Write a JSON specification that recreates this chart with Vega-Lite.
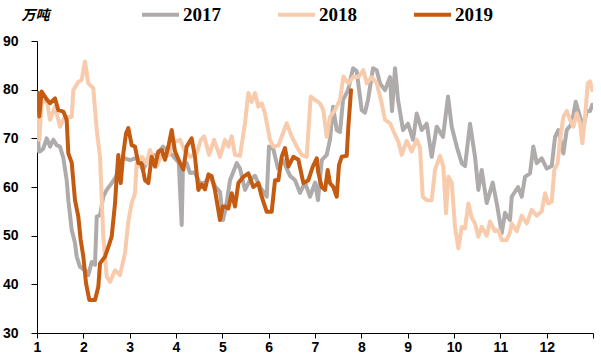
{
  "$schema": "https://vega.github.io/schema/vega-lite/v6.json",
  "autosize": {"type": "none"},
  "width": 556,
  "height": 292,
  "padding": {"left": 37, "top": 41, "right": 8, "bottom": 28},
  "background": "white",
  "config": {"view": {"stroke": null}},
  "data": {"values": [
    {"year":"2017","m":1.0,"v":73.8},{"year":"2017","m":1.04,"v":67.3},{"year":"2017","m":1.065,"v":67.3},{"year":"2017","m":1.13,"v":67.8},{"year":"2017","m":1.209,"v":70.0},{"year":"2017","m":1.281,"v":68.3},{"year":"2017","m":1.352,"v":69.7},{"year":"2017","m":1.425,"v":68.6},{"year":"2017","m":1.496,"v":68.3},{"year":"2017","m":1.568,"v":66},{"year":"2017","m":1.641,"v":61.4},{"year":"2017","m":1.676,"v":57.3},{"year":"2017","m":1.749,"v":51.2},{"year":"2017","m":1.82,"v":48.5},{"year":"2017","m":1.857,"v":45.7},{"year":"2017","m":1.928,"v":43.6},{"year":"2017","m":2.036,"v":42.9},{"year":"2017","m":2.107,"v":41.9},{"year":"2017","m":2.181,"v":44.6},{"year":"2017","m":2.252,"v":44},{"year":"2017","m":2.289,"v":53.9},{"year":"2017","m":2.36,"v":54.2},{"year":"2017","m":2.431,"v":58},{"year":"2017","m":2.504,"v":59.4},{"year":"2017","m":2.612,"v":60.8},{"year":"2017","m":2.7,"v":62},{"year":"2017","m":2.863,"v":66},{"year":"2017","m":3.007,"v":65.5},{"year":"2017","m":3.15,"v":66},{"year":"2017","m":3.288,"v":63.5},{"year":"2017","m":3.439,"v":66.5},{"year":"2017","m":3.58,"v":66.6},{"year":"2017","m":3.72,"v":68.3},{"year":"2017","m":3.935,"v":66.4},{"year":"2017","m":4.06,"v":65},{"year":"2017","m":4.123,"v":52.2},{"year":"2017","m":4.151,"v":64.6},{"year":"2017","m":4.23,"v":64.9},{"year":"2017","m":4.302,"v":62.9},{"year":"2017","m":4.4,"v":63},{"year":"2017","m":4.518,"v":60.8},{"year":"2017","m":4.62,"v":60.8},{"year":"2017","m":4.73,"v":62.3},{"year":"2017","m":4.85,"v":60},{"year":"2017","m":4.95,"v":59},{"year":"2017","m":5.015,"v":53.2},{"year":"2017","m":5.08,"v":56},{"year":"2017","m":5.166,"v":61.4},{"year":"2017","m":5.31,"v":64.9},{"year":"2017","m":5.382,"v":63.8},{"year":"2017","m":5.489,"v":59.4},{"year":"2017","m":5.597,"v":61.4},{"year":"2017","m":5.705,"v":62.3},{"year":"2017","m":5.813,"v":60},{"year":"2017","m":5.958,"v":58},{"year":"2017","m":6.007,"v":68.3},{"year":"2017","m":6.094,"v":68},{"year":"2017","m":6.202,"v":63.8},{"year":"2017","m":6.31,"v":65.5},{"year":"2017","m":6.461,"v":62.3},{"year":"2017","m":6.569,"v":61.4},{"year":"2017","m":6.677,"v":58.8},{"year":"2017","m":6.785,"v":60.9},{"year":"2017","m":6.893,"v":58},{"year":"2017","m":7.0,"v":60.9},{"year":"2017","m":7.065,"v":57.3},{"year":"2017","m":7.145,"v":65.5},{"year":"2017","m":7.253,"v":66.6},{"year":"2017","m":7.324,"v":69.7},{"year":"2017","m":7.389,"v":76.5},{"year":"2017","m":7.469,"v":71.7},{"year":"2017","m":7.54,"v":71.3},{"year":"2017","m":7.605,"v":77.9},{"year":"2017","m":7.713,"v":79.9},{"year":"2017","m":7.821,"v":84.4},{"year":"2017","m":7.9,"v":83.8},{"year":"2017","m":8.008,"v":75.8},{"year":"2017","m":8.08,"v":75.3},{"year":"2017","m":8.144,"v":77.9},{"year":"2017","m":8.252,"v":84.4},{"year":"2017","m":8.332,"v":84},{"year":"2017","m":8.403,"v":81.3},{"year":"2017","m":8.511,"v":79.9},{"year":"2017","m":8.619,"v":82.6},{"year":"2017","m":8.662,"v":75.6},{"year":"2017","m":8.727,"v":84.4},{"year":"2017","m":8.792,"v":77.9},{"year":"2017","m":8.9,"v":71.7},{"year":"2017","m":9.008,"v":73},{"year":"2017","m":9.116,"v":69.7},{"year":"2017","m":9.196,"v":75.1},{"year":"2017","m":9.303,"v":71.7},{"year":"2017","m":9.411,"v":73},{"year":"2017","m":9.519,"v":66.2},{"year":"2017","m":9.627,"v":72.4},{"year":"2017","m":9.763,"v":70.3},{"year":"2017","m":9.871,"v":78.6},{"year":"2017","m":9.951,"v":72.4},{"year":"2017","m":10.059,"v":68.3},{"year":"2017","m":10.167,"v":64.9},{"year":"2017","m":10.238,"v":64.3},{"year":"2017","m":10.346,"v":73},{"year":"2017","m":10.454,"v":66.2},{"year":"2017","m":10.525,"v":59.4},{"year":"2017","m":10.598,"v":63.5},{"year":"2017","m":10.706,"v":56.7},{"year":"2017","m":10.836,"v":60.9},{"year":"2017","m":10.935,"v":56},{"year":"2017","m":11.03,"v":50.5},{"year":"2017","m":11.101,"v":54.7},{"year":"2017","m":11.209,"v":53.2},{"year":"2017","m":11.246,"v":58},{"year":"2017","m":11.382,"v":60},{"year":"2017","m":11.462,"v":58},{"year":"2017","m":11.533,"v":62.1},{"year":"2017","m":11.641,"v":62.8},{"year":"2017","m":11.712,"v":68.3},{"year":"2017","m":11.786,"v":64.9},{"year":"2017","m":11.894,"v":65.9},{"year":"2017","m":12.002,"v":63.8},{"year":"2017","m":12.109,"v":64.3},{"year":"2017","m":12.181,"v":70.3},{"year":"2017","m":12.252,"v":71.7},{"year":"2017","m":12.36,"v":66.9},{"year":"2017","m":12.433,"v":71.7},{"year":"2017","m":12.541,"v":73},{"year":"2017","m":12.627,"v":77.5},{"year":"2017","m":12.72,"v":74.4},{"year":"2017","m":12.792,"v":72.4},{"year":"2017","m":12.865,"v":75.6},{"year":"2017","m":12.936,"v":75.6},{"year":"2017","m":12.986,"v":76.9},
    {"year":"2018","m":1.0,"v":75.8},{"year":"2018","m":1.05,"v":69.7},{"year":"2018","m":1.1,"v":77.2},{"year":"2018","m":1.209,"v":77.9},{"year":"2018","m":1.281,"v":73.8},{"year":"2018","m":1.39,"v":76.5},{"year":"2018","m":1.496,"v":72.4},{"year":"2018","m":1.6,"v":74.4},{"year":"2018","m":1.749,"v":74.4},{"year":"2018","m":1.784,"v":79.9},{"year":"2018","m":1.892,"v":81.6},{"year":"2018","m":1.964,"v":82},{"year":"2018","m":2.036,"v":85.8},{"year":"2018","m":2.107,"v":81.3},{"year":"2018","m":2.215,"v":80.3},{"year":"2018","m":2.289,"v":71.7},{"year":"2018","m":2.36,"v":66.2},{"year":"2018","m":2.395,"v":58},{"year":"2018","m":2.431,"v":49.8},{"year":"2018","m":2.504,"v":41.6},{"year":"2018","m":2.576,"v":40.5},{"year":"2018","m":2.684,"v":42.9},{"year":"2018","m":2.791,"v":41.9},{"year":"2018","m":2.899,"v":46.4},{"year":"2018","m":2.971,"v":52.9},{"year":"2018","m":3.043,"v":56.7},{"year":"2018","m":3.115,"v":58.7},{"year":"2018","m":3.151,"v":64.9},{"year":"2018","m":3.18,"v":64.2},{"year":"2018","m":3.259,"v":66.2},{"year":"2018","m":3.367,"v":64.9},{"year":"2018","m":3.439,"v":67.6},{"year":"2018","m":3.58,"v":64.2},{"year":"2018","m":3.691,"v":66.6},{"year":"2018","m":3.835,"v":66.5},{"year":"2018","m":3.97,"v":69.3},{"year":"2018","m":4.087,"v":69.7},{"year":"2018","m":4.18,"v":67.6},{"year":"2018","m":4.302,"v":66.2},{"year":"2018","m":4.45,"v":67},{"year":"2018","m":4.535,"v":69.7},{"year":"2018","m":4.607,"v":70.4},{"year":"2018","m":4.715,"v":66.6},{"year":"2018","m":4.823,"v":69.7},{"year":"2018","m":4.95,"v":66.2},{"year":"2018","m":5.058,"v":69.7},{"year":"2018","m":5.13,"v":68.3},{"year":"2018","m":5.202,"v":70.4},{"year":"2018","m":5.274,"v":66.6},{"year":"2018","m":5.382,"v":66.4},{"year":"2018","m":5.489,"v":73.1},{"year":"2018","m":5.561,"v":79.3},{"year":"2018","m":5.633,"v":77.5},{"year":"2018","m":5.705,"v":79.3},{"year":"2018","m":5.777,"v":76.5},{"year":"2018","m":5.85,"v":77.2},{"year":"2018","m":5.921,"v":75.1},{"year":"2018","m":6.029,"v":69.7},{"year":"2018","m":6.101,"v":68.3},{"year":"2018","m":6.209,"v":68.5},{"year":"2018","m":6.389,"v":73.1},{"year":"2018","m":6.497,"v":70.4},{"year":"2018","m":6.605,"v":68.3},{"year":"2018","m":6.713,"v":66.6},{"year":"2018","m":6.821,"v":66.2},{"year":"2018","m":6.907,"v":78.6},{"year":"2018","m":7.0,"v":77.9},{"year":"2018","m":7.108,"v":77.2},{"year":"2018","m":7.18,"v":75.8},{"year":"2018","m":7.253,"v":70.3},{"year":"2018","m":7.324,"v":74.4},{"year":"2018","m":7.432,"v":75.8},{"year":"2018","m":7.54,"v":77.9},{"year":"2018","m":7.612,"v":82.7},{"year":"2018","m":7.72,"v":81.3},{"year":"2018","m":7.828,"v":82.6},{"year":"2018","m":7.936,"v":82.6},{"year":"2018","m":8.044,"v":84},{"year":"2018","m":8.116,"v":81.3},{"year":"2018","m":8.224,"v":82.6},{"year":"2018","m":8.332,"v":81.3},{"year":"2018","m":8.44,"v":77.2},{"year":"2018","m":8.511,"v":73.8},{"year":"2018","m":8.619,"v":73.1},{"year":"2018","m":8.691,"v":71.5},{"year":"2018","m":8.799,"v":69.3},{"year":"2018","m":8.871,"v":66.6},{"year":"2018","m":8.979,"v":69.5},{"year":"2018","m":9.087,"v":67.3},{"year":"2018","m":9.196,"v":69.7},{"year":"2018","m":9.267,"v":68},{"year":"2018","m":9.325,"v":58},{"year":"2018","m":9.411,"v":57.3},{"year":"2018","m":9.519,"v":57.3},{"year":"2018","m":9.59,"v":63.5},{"year":"2018","m":9.698,"v":66.4},{"year":"2018","m":9.77,"v":64.2},{"year":"2018","m":9.828,"v":54.6},{"year":"2018","m":9.878,"v":62.1},{"year":"2018","m":9.951,"v":60.9},{"year":"2018","m":10.022,"v":51.8},{"year":"2018","m":10.094,"v":47.4},{"year":"2018","m":10.167,"v":51.8},{"year":"2018","m":10.238,"v":51.5},{"year":"2018","m":10.31,"v":56.6},{"year":"2018","m":10.382,"v":53.7},{"year":"2018","m":10.454,"v":52.5},{"year":"2018","m":10.525,"v":49.8},{"year":"2018","m":10.598,"v":51.8},{"year":"2018","m":10.706,"v":50},{"year":"2018","m":10.777,"v":52.9},{"year":"2018","m":10.885,"v":50.9},{"year":"2018","m":10.957,"v":51.2},{"year":"2018","m":11.03,"v":49.1},{"year":"2018","m":11.137,"v":49.1},{"year":"2018","m":11.209,"v":50.7},{"year":"2018","m":11.246,"v":52.5},{"year":"2018","m":11.354,"v":50.9},{"year":"2018","m":11.462,"v":54.1},{"year":"2018","m":11.57,"v":52.5},{"year":"2018","m":11.677,"v":55.3},{"year":"2018","m":11.786,"v":54.1},{"year":"2018","m":11.894,"v":55},{"year":"2018","m":11.965,"v":58.7},{"year":"2018","m":12.037,"v":56.6},{"year":"2018","m":12.109,"v":57},{"year":"2018","m":12.165,"v":63.5},{"year":"2018","m":12.238,"v":64.9},{"year":"2018","m":12.288,"v":69.7},{"year":"2018","m":12.36,"v":74.4},{"year":"2018","m":12.433,"v":75.6},{"year":"2018","m":12.505,"v":73.8},{"year":"2018","m":12.577,"v":72.4},{"year":"2018","m":12.649,"v":75.1},{"year":"2018","m":12.72,"v":73.1},{"year":"2018","m":12.77,"v":69},{"year":"2018","m":12.829,"v":74.4},{"year":"2018","m":12.887,"v":81.3},{"year":"2018","m":12.936,"v":81.7},{"year":"2018","m":12.986,"v":79.9},
    {"year":"2019","m":1.0,"v":79.3},{"year":"2019","m":1.028,"v":79.3},{"year":"2019","m":1.05,"v":74.5},{"year":"2019","m":1.1,"v":79.6},{"year":"2019","m":1.209,"v":78.0},{"year":"2019","m":1.281,"v":77.2},{"year":"2019","m":1.389,"v":78.2},{"year":"2019","m":1.46,"v":75.8},{"year":"2019","m":1.568,"v":75.5},{"year":"2019","m":1.641,"v":73.8},{"year":"2019","m":1.676,"v":66.9},{"year":"2019","m":1.749,"v":65},{"year":"2019","m":1.82,"v":57.3},{"year":"2019","m":1.892,"v":53.9},{"year":"2019","m":1.943,"v":49.1},{"year":"2019","m":2.0,"v":45.7},{"year":"2019","m":2.058,"v":40.2},{"year":"2019","m":2.129,"v":36.8},{"year":"2019","m":2.252,"v":36.8},{"year":"2019","m":2.324,"v":39.5},{"year":"2019","m":2.36,"v":44.3},{"year":"2019","m":2.468,"v":45.7},{"year":"2019","m":2.54,"v":47.7},{"year":"2019","m":2.612,"v":49.8},{"year":"2019","m":2.684,"v":56.6},{"year":"2019","m":2.72,"v":62.1},{"year":"2019","m":2.755,"v":66.6},{"year":"2019","m":2.807,"v":60.8},{"year":"2019","m":2.863,"v":66.9},{"year":"2019","m":2.921,"v":71},{"year":"2019","m":2.971,"v":72.1},{"year":"2019","m":3.043,"v":68.6},{"year":"2019","m":3.115,"v":68.3},{"year":"2019","m":3.187,"v":64.9},{"year":"2019","m":3.259,"v":64.9},{"year":"2019","m":3.331,"v":61.4},{"year":"2019","m":3.403,"v":60.8},{"year":"2019","m":3.475,"v":66.2},{"year":"2019","m":3.547,"v":64.2},{"year":"2019","m":3.619,"v":67.3},{"year":"2019","m":3.691,"v":67.6},{"year":"2019","m":3.763,"v":65.6},{"year":"2019","m":3.835,"v":68.3},{"year":"2019","m":3.907,"v":71.7},{"year":"2019","m":3.979,"v":67.3},{"year":"2019","m":4.087,"v":64.9},{"year":"2019","m":4.159,"v":63.6},{"year":"2019","m":4.23,"v":68.3},{"year":"2019","m":4.338,"v":70},{"year":"2019","m":4.41,"v":66.2},{"year":"2019","m":4.482,"v":59.4},{"year":"2019","m":4.553,"v":60.5},{"year":"2019","m":4.626,"v":59.5},{"year":"2019","m":4.7,"v":62.6},{"year":"2019","m":4.77,"v":62.2},{"year":"2019","m":4.84,"v":59.4},{"year":"2019","m":4.95,"v":53.2},{"year":"2019","m":5.01,"v":56},{"year":"2019","m":5.058,"v":56},{"year":"2019","m":5.13,"v":55.6},{"year":"2019","m":5.202,"v":58.7},{"year":"2019","m":5.274,"v":56},{"year":"2019","m":5.346,"v":60.8},{"year":"2019","m":5.454,"v":62.1},{"year":"2019","m":5.561,"v":62.8},{"year":"2019","m":5.669,"v":60},{"year":"2019","m":5.777,"v":60.8},{"year":"2019","m":5.85,"v":58},{"year":"2019","m":5.958,"v":54.9},{"year":"2019","m":6.065,"v":54.9},{"year":"2019","m":6.137,"v":61.4},{"year":"2019","m":6.209,"v":61.4},{"year":"2019","m":6.281,"v":66.2},{"year":"2019","m":6.353,"v":68},{"year":"2019","m":6.425,"v":64.2},{"year":"2019","m":6.533,"v":66.2},{"year":"2019","m":6.641,"v":65.6},{"year":"2019","m":6.749,"v":60.8},{"year":"2019","m":6.857,"v":61.4},{"year":"2019","m":6.952,"v":64.2},{"year":"2019","m":7.038,"v":65.9},{"year":"2019","m":7.07,"v":63},{"year":"2019","m":7.145,"v":60},{"year":"2019","m":7.217,"v":59.4},{"year":"2019","m":7.274,"v":63.5},{"year":"2019","m":7.324,"v":60.8},{"year":"2019","m":7.396,"v":60},{"year":"2019","m":7.469,"v":58},{"year":"2019","m":7.518,"v":64.5},{"year":"2019","m":7.576,"v":66.2},{"year":"2019","m":7.684,"v":66.4},{"year":"2019","m":7.72,"v":72.4},{"year":"2019","m":7.778,"v":79.9}
  ]},
  "mark": {"type": "line", "strokeWidth": 4, "strokeJoin": "round", "strokeCap": "round", "clip": true},
  "encoding": {
    "x": {"field": "m", "type": "quantitative",
      "scale": {"domain": [1, 13], "nice": false, "zero": false},
      "axis": {"title": null, "values": [1,2,3,4,5,6,7,8,9,10,11,12,13], "labelExpr": "datum.value < 13 ? datum.label : ''",
        "grid": false, "domainColor": "black", "domainWidth": 1, "tickColor": "black", "tickSize": 5,
        "labelFont": "Liberation Sans", "labelFontWeight": "bold", "labelFontSize": 14, "labelColor": "black",
        "labelPadding": 2, "labelAlign": "center", "labelFlush": false, "labelOverlap": false}},
    "y": {"field": "v", "type": "quantitative",
      "scale": {"domain": [30, 90], "nice": false, "zero": false},
      "axis": {"values": [30,40,50,60,70,80,90], "grid": false, "domainColor": "black", "tickColor": "black", "tickSize": 6,
        "labelFont": "Liberation Sans", "labelFontWeight": "bold", "labelFontSize": 14, "labelColor": "black", "labelPadding": 13,
        "title": "万吨", "titleAngle": 0, "titleX": -2, "titleY": -22, "titleAlign": "center", "titleBaseline": "alphabetic",
        "titleFont": "Noto Sans CJK SC", "titleFontSize": 14, "titleFontWeight": "bold", "titleFontStyle": "italic", "titleColor": "black"}},
    "color": {"field": "year", "type": "nominal",
      "scale": {"domain": ["2017","2018","2019"], "range": ["#AFABAB","#F8CBAD","#C55A11"]},
      "legend": {"title": null, "orient": "none", "legendX": 103, "legendY": -47, "direction": "horizontal", "columns": 3,
        "symbolType": "stroke", "symbolSize": 1369, "symbolStrokeWidth": 4, "labelOffset": 2, "columnPadding": 49, "padding": 0,
        "labelFont": "Liberation Serif", "labelFontWeight": "bold", "labelFontSize": 19, "labelColor": "black"}}
  }
}
